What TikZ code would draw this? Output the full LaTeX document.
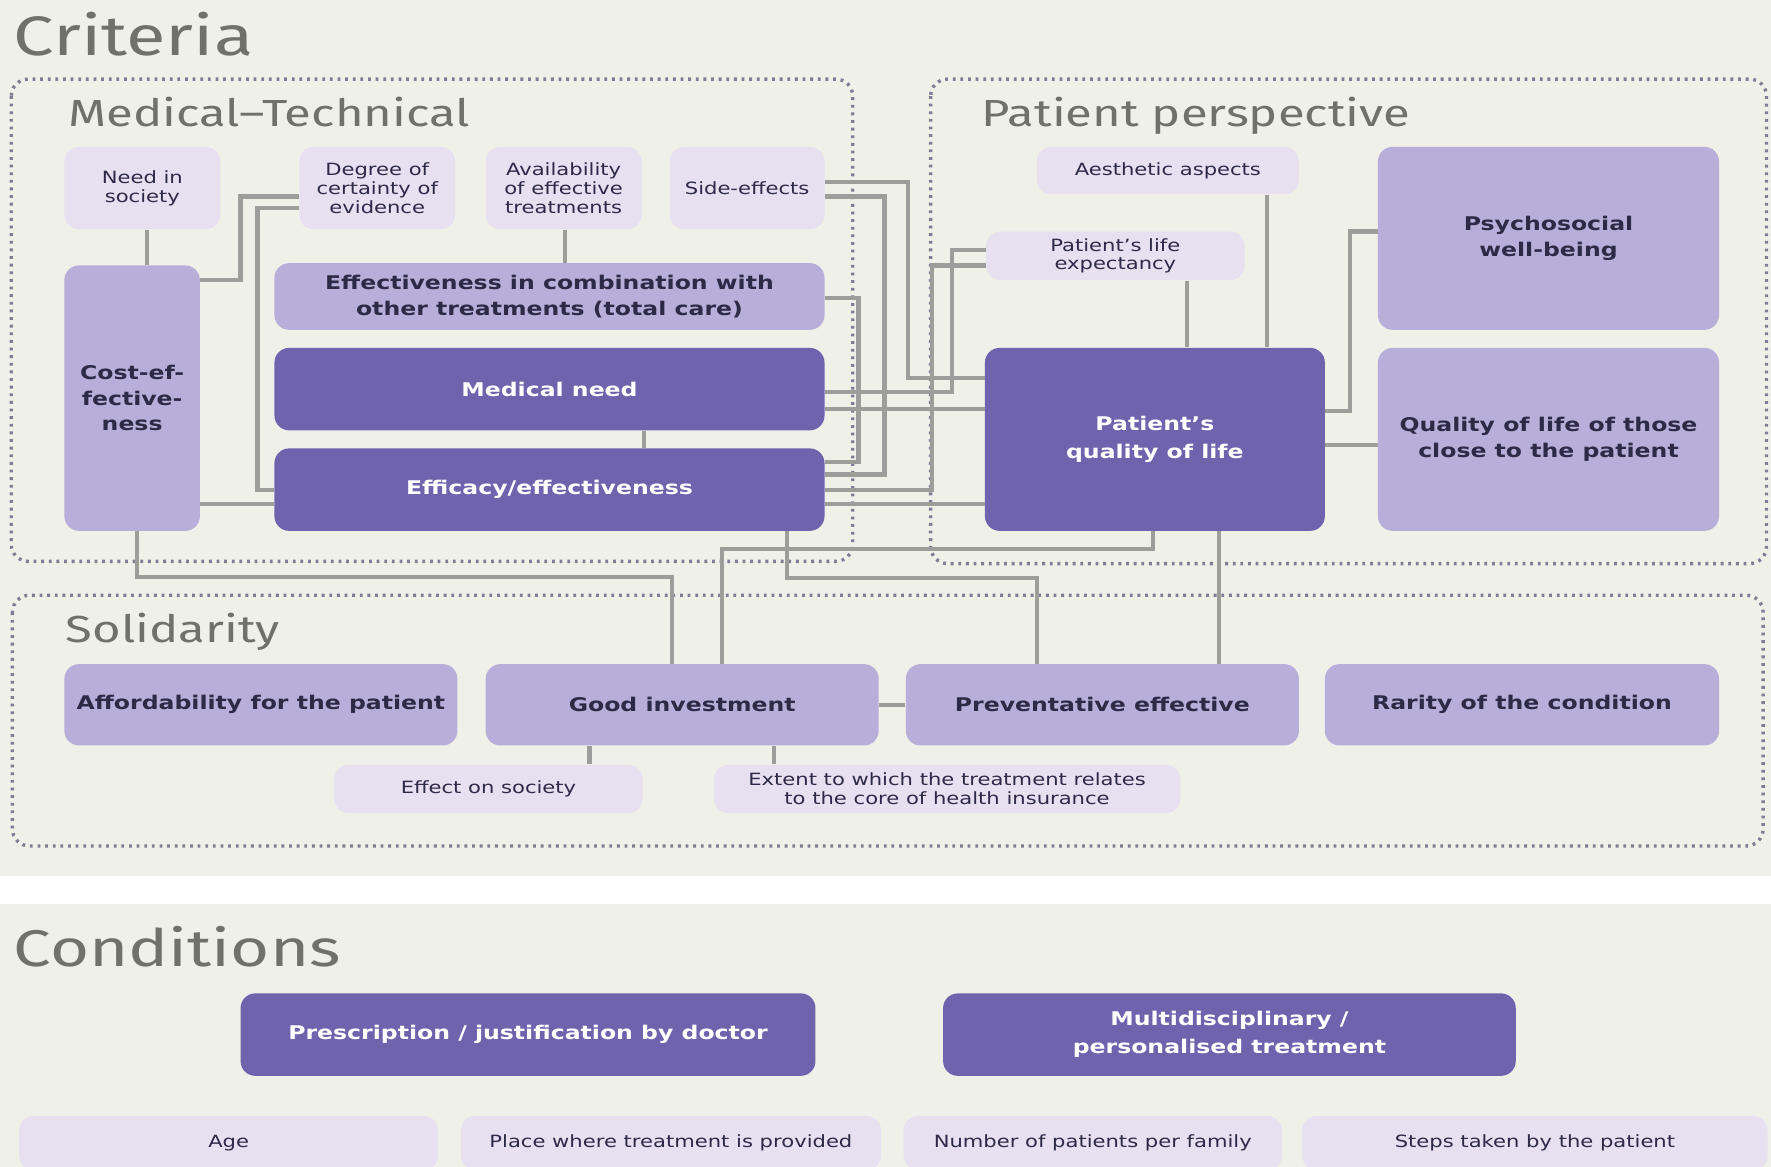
\documentclass[tikz,border=0pt]{standalone}
\usepackage{fontspec}
\setmainfont[FakeStretch=1.25]{DejaVu Sans}
\newfontfamily\titlefont[FakeStretch=1.3]{Fira Sans}
\usepackage{tikz}

\definecolor{bgcol}{HTML}{EFF0E8}
\definecolor{darkpurple}{HTML}{6F63AE}
\definecolor{midpurple}{HTML}{B7AFD9}
\definecolor{lightpurple}{HTML}{E7E0F1}
\definecolor{boxtext}{HTML}{2D2A48}
\definecolor{linegrey}{HTML}{9D9D99}
\definecolor{dotgrey}{HTML}{7E7E98}
\definecolor{titlegrey}{HTML}{71716C}

\tikzset{
  box/.style={rounded corners=2.6mm, inner sep=0pt, align=center},
  sz/.style 2 args={minimum width=#1*0.2mm, minimum height=#2*0.2mm},
  darkbox/.style={box, fill=darkpurple, text=white, font=\fontsize{9.5}{12.8}\selectfont\bfseries},
  midbox/.style={box, fill=midpurple, text=boxtext, font=\fontsize{9.5}{12.8}\selectfont\bfseries},
  lightbox/.style={box, fill=lightpurple, text=boxtext, font=\fontsize{8.5}{9.4}\selectfont},
  conn/.style={draw=linegrey, line width=0.75mm},
  frame/.style={draw=dotgrey, line width=0.6mm, dash pattern=on 0.5mm off 0.85mm, rounded corners=3mm},
  sectitle/.style={anchor=base west, inner sep=0pt, text=titlegrey, font=\titlefont\fontsize{19}{22}\selectfont},
  maintitle/.style={anchor=base west, inner sep=0pt, text=titlegrey, font=\titlefont\fontsize{28}{32}\selectfont}
}

\begin{document}
\begin{tikzpicture}[x=0.2mm, y=-0.2mm]
  \clip (0,0) rectangle (1568,1033);
  \fill[bgcol] (0,0) rectangle (1568,1033);
  \fill[white] (0,776) rectangle (1568,800);

  \draw (12,49) node[maintitle] (criteria) {Criteria};
  \draw (12,856) node[maintitle, font=\titlefont\fontsize{26}{30}\selectfont] (conditions) {Conditions};

  \draw[frame] (10,70) rectangle (755,497);
  \draw[frame] (824,70) rectangle (1564,499);
  \draw[frame] (11,527) rectangle (1561,749);
  \draw (60,112) node[sectitle] (medtech) {Medical–Technical};
  \draw (869,112) node[sectitle] (patpersp) {Patient perspective};
  \draw (58,569) node[sectitle] (solidarity) {Solidarity};

  \draw (126,166.5) node[lightbox, sz={138}{73}] (needsoc) {Need in\\society};
  \draw (334,166.5) node[lightbox, sz={138}{73}] (degree) {Degree of\\certainty of\\evidence};
  \draw (499,166.5) node[lightbox, sz={138}{73}] (avail) {Availability\\of effective\\treatments};
  \draw (661.5,166.5) node[lightbox, sz={137}{73}] (side) {Side-effects};
  \draw (117,352.5) node[midbox, sz={120}{235}] (cost) {Cost-ef-\\fective-\\ness};
  \draw (486.5,262.5) node[midbox, sz={487}{59}] (combi) {Effectiveness in combination with\\other treatments (total care)};
  \draw (486.5,344.5) node[darkbox, sz={487}{73}] (medneed) {Medical need};
  \draw (486.5,433.5) node[darkbox, sz={487}{73}] (efficacy) {Efficacy/effectiveness};

  \draw (1034,151) node[lightbox, sz={232}{42}] (aesth) {Aesthetic aspects};
  \draw (987.5,226.5) node[lightbox, sz={229}{43}] (lifeexp) {Patient's life\\expectancy};
  \draw (1371,211) node[midbox, sz={302}{162}] (psycho) {Psychosocial\\well-being};
  \draw (1022.5,389) node[darkbox, sz={301}{162}, font=\fontsize{9.5}{13.7}\selectfont\bfseries] (qol) {Patient's\\quality of life};
  \draw (1371,389) node[midbox, sz={302}{162}] (closeqol) {Quality of life of those\\close to the patient};

  \draw (231,624) node[midbox, sz={348}{72}] (afford) {Affordability for the patient};
  \draw (604,624) node[midbox, sz={348}{72}] (goodinv) {Good investment};
  \draw (976,624) node[midbox, sz={348}{72}] (prevent) {Preventative effective};
  \draw (1347.5,624) node[midbox, sz={349}{72}] (rarity) {Rarity of the condition};
  \draw (432.5,698.5) node[lightbox, sz={273}{43}] (effsoc) {Effect on society};
  \draw (838.5,698.5) node[lightbox, sz={413}{43}] (extent) {Extent to which the treatment relates\\to the core of health insurance};

  \draw (467.5,916) node[darkbox, sz={509}{73}] (prescr) {Prescription / justification by doctor};
  \draw (1088.5,916) node[darkbox, sz={507}{73}, font=\fontsize{9.5}{14.2}\selectfont\bfseries] (multi) {Multidisciplinary /\\personalised treatment};
  \draw (202.5,1012) node[lightbox, sz={371}{48}] (age) {Age};
  \draw (594,1012) node[lightbox, sz={372}{48}] (place) {Place where treatment is provided};
  \draw (967.5,1012) node[lightbox, sz={335}{48}] (number) {Number of patients per family};
  \draw (1359,1012) node[lightbox, sz={412}{48}] (steps) {Steps taken by the patient};

  \path[conn] (needsoc.south -| 130,0) -- (cost.north -| 130,0);
  \path[conn] (cost.east |- 0,248) -- (213,248) -- (213,174) -- (degree.west |- 0,174);
  \path[conn] (degree.west |- 0,184) -- (228,184) -- (228,434) -- (efficacy.west |- 0,434);
  \path[conn] (cost.east |- 0,446) -- (efficacy.west |- 0,446);
  \path[conn] (avail.south -| 500,0) -- (combi.north -| 500,0);
  \path[conn] (medneed.south -| 570,0) -- (efficacy.north -| 570,0);
  \path[conn] (side.east |- 0,161) -- (804,161) -- (804,335) -- (qol.west |- 0,335);
  \path[conn] (side.east |- 0,174) -- (783,174) -- (783,420) -- (efficacy.east |- 0,420);
  \path[conn] (combi.east |- 0,264) -- (760,264) -- (760,409) -- (efficacy.east |- 0,409);
  \path[conn] (lifeexp.west |- 0,221) -- (843,221) -- (843,347) -- (medneed.east |- 0,347);
  \path[conn] (lifeexp.west |- 0,235) -- (825,235) -- (825,434) -- (efficacy.east |- 0,434);
  \path[conn] (medneed.east |- 0,362) -- (qol.west |- 0,362);
  \path[conn] (efficacy.east |- 0,446) -- (qol.west |- 0,446);
  \path[conn] (aesth.south -| 1122,0) -- (qol.north -| 1122,0);
  \path[conn] (lifeexp.south -| 1051,0) -- (qol.north -| 1051,0);
  \path[conn] (qol.east |- 0,364) -- (1195,364) -- (1195,205) -- (psycho.west |- 0,205);
  \path[conn] (qol.east |- 0,394) -- (closeqol.west |- 0,394);
  \path[conn] (cost.south -| 121,0) -- (121,511) -- (595,511) -- (goodinv.north -| 595,0);
  \path[conn] (goodinv.north -| 639,0) -- (639,486) -- (1021,486) -- (qol.south -| 1021,0);
  \path[conn] (efficacy.south -| 697,0) -- (697,512) -- (918,512) -- (prevent.north -| 918,0);
  \path[conn] (qol.south -| 1079,0) -- (prevent.north -| 1079,0);
  \path[conn] (goodinv.east) -- (prevent.west);
  \path[conn] (goodinv.south -| 522,0) -- (effsoc.north -| 522,0);
  \path[conn] (goodinv.south -| 685,0) -- (extent.north -| 685,0);
\end{tikzpicture}
\end{document}
